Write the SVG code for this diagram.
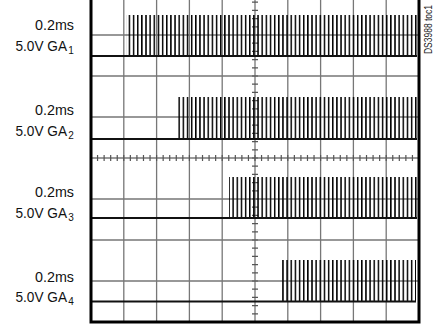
<svg xmlns="http://www.w3.org/2000/svg" width="441" height="335" viewBox="0 0 441 335">
<style>
.lbl{font-family:"Liberation Sans",Arial,sans-serif;font-size:15px;fill:#111}
.sub{font-family:"Liberation Sans",Arial,sans-serif;font-size:10px;fill:#111}
.grid{stroke:#777;stroke-width:1.3;fill:none}
.base{stroke:#111;stroke-width:2;fill:none}
.tick{stroke:#555;fill:none}
</style>
<defs>
<pattern id="pulse" width="4.15" height="400" patternUnits="userSpaceOnUse">
<rect x="0" y="0" width="1.5" height="400" fill="#000"/>
</pattern>
</defs>
<rect width="441" height="335" fill="#fff"/>
<g id="grid">
<path class="grid" d="M123.8-6V322M156.6-6V322M189.4-6V322M222.2-6V322M255-6V322M287.8-6V322M320.6-6V322M353.4-6V322M386.2-6V322"/>
<path class="grid" d="M91 35H419M91 76H419M91 117H419M91 199H419M91 240H419M91 281H419"/>
<path class="grid" d="M91 158H419"/>
<line class="tick" x1="255" y1="-6" x2="255" y2="322" stroke-width="6" stroke-dasharray="1.2 7" stroke-dashoffset="0.6"/>
<line class="tick" x1="91" y1="158" x2="419" y2="158" stroke-width="6" stroke-dasharray="1.2 5.36" stroke-dashoffset="0.6"/>
</g>
<g id="trace-GA1">
<rect x="126" y="15" width="291" height="41" fill="url(#pulse)"/>
<path class="base" d="M91 56H417"/>
</g>
<g id="trace-GA2">
<rect x="178" y="97" width="239" height="42" fill="url(#pulse)"/>
<path class="base" d="M91 139H417"/>
</g>
<g id="trace-GA3">
<rect x="229" y="177" width="188" height="41" fill="url(#pulse)"/>
<path class="base" d="M91 218H417"/>
</g>
<g id="trace-GA4">
<rect x="280" y="260" width="136" height="41.5" fill="url(#pulse)"/>
<path class="base" d="M91 301.5H416"/>
</g>
<rect id="frame" x="91" y="-6" width="328" height="328" fill="none" stroke="#000" stroke-width="3"/>
<g id="labels">
<text class="lbl" x="74" y="30" text-anchor="end" textLength="39" lengthAdjust="spacingAndGlyphs">0.2ms</text>
<text class="lbl" x="67" y="51" text-anchor="end" textLength="51.5" lengthAdjust="spacingAndGlyphs">5.0V GA</text>
<text class="sub" x="68.3" y="54">1</text>
<text class="lbl" x="74" y="115" text-anchor="end" textLength="39" lengthAdjust="spacingAndGlyphs">0.2ms</text>
<text class="lbl" x="67" y="136" text-anchor="end" textLength="51.5" lengthAdjust="spacingAndGlyphs">5.0V GA</text>
<text class="sub" x="68.3" y="139">2</text>
<text class="lbl" x="74" y="197" text-anchor="end" textLength="39" lengthAdjust="spacingAndGlyphs">0.2ms</text>
<text class="lbl" x="67" y="217.5" text-anchor="end" textLength="51.5" lengthAdjust="spacingAndGlyphs">5.0V GA</text>
<text class="sub" x="68.3" y="220.5">3</text>
<text class="lbl" x="74" y="282" text-anchor="end" textLength="39" lengthAdjust="spacingAndGlyphs">0.2ms</text>
<text class="lbl" x="67" y="302" text-anchor="end" textLength="51.5" lengthAdjust="spacingAndGlyphs">5.0V GA</text>
<text class="sub" x="68.3" y="305">4</text>
<text font-family="'Liberation Sans',Arial,sans-serif" font-size="11" fill="#222" transform="translate(432,54) rotate(-90)" textLength="49" lengthAdjust="spacingAndGlyphs">DS3988 toc1</text>
</g>
</svg>
